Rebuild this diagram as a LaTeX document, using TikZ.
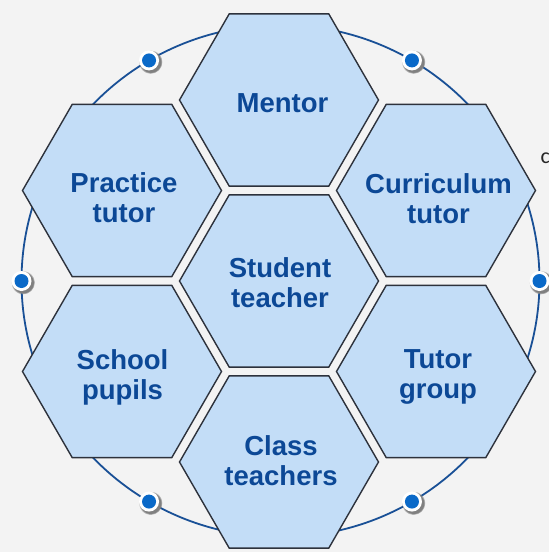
\documentclass[tikz,border=0pt]{standalone}
\usepackage{fontspec}
\setmainfont{Liberation Sans}
\newfontfamily\strayfont{Carlito}
\usetikzlibrary{shapes.geometric,shadows}
\definecolor{bgc}{RGB}{243,243,243}
\definecolor{hexfill}{RGB}{195,221,247}
\definecolor{hexline}{RGB}{45,50,60}
\definecolor{txt}{RGB}{12,72,150}
\definecolor{ringc}{RGB}{25,80,150}
\definecolor{dotblue}{RGB}{10,105,200}
\begin{document}
\begin{tikzpicture}[x=1pt,y=-1pt,
  hexa/.style={regular polygon, regular polygon sides=6, minimum size=199pt,
    inner sep=0pt, outer sep=0pt, draw=hexline, line width=1.4pt, fill=hexfill},
  lbl/.style={font=\fontsize{27.5}{30}\selectfont\bfseries, text=txt,
    align=center, inner sep=0pt},
  dotring/.style={circle, minimum size=20pt, inner sep=0pt, fill=white,
    circular drop shadow={shadow xshift=1.2pt, shadow yshift=-1.2pt, shadow scale=1.2},
    path picture={\fill[dotblue] (path picture bounding box.center) circle[radius=7pt];}},
  ringline/.style={draw=ringc, line width=1.8pt}]
\fill[bgc] (0,0) rectangle (549,552);
\useasboundingbox (0,0) rectangle (549,552);
\coordinate (o) at (280.5,281);
\draw[ringline] (o) ellipse [x radius=259pt, y radius=256pt];
% hexagons
\node[hexa] (mentor) at (279,100) {};
\node[hexa] (student) at (279,281) {};
\node[hexa] (practice) at (122,190.5) {};
\node[hexa] (curric) at (436,190.5) {};
\node[hexa] (pupils) at (122,371.5) {};
\node[hexa] (group) at (436,371.5) {};
\node[hexa] (classt) at (279,462) {};
% labels
\node[lbl] (tmentor) at (282.5,103.5) {Mentor};
\node[lbl] (tstudent) at (280,283) {Student\\teacher};
\node[lbl] (tpractice) at (124,198) {Practice\\tutor};
\node[lbl] (tcurric) at (438.5,199) {Curriculum\\tutor};
\node[lbl] (tpupils) at (122.5,377.5) {School\\pupils};
\node[lbl] (tgroup) at (438,377) {Tutor\\group};
\node[lbl] (tclass) at (281,460.5) {Class\\teachers};
% dots on the ring
\node[dotring] (d1) at ([shift={(0:259 and 256)}]o) {};
\node[dotring] (d2) at ([shift={(59.5:259 and 256)}]o) {};
\node[dotring] (d3) at ([shift={(120.5:259 and 256)}]o) {};
\node[dotring] (d4) at ([shift={(180:259 and 256)}]o) {};
\node[dotring] (d5) at ([shift={(239.5:259 and 256)}]o) {};
\node[dotring] (d6) at ([shift={(300.5:259 and 256)}]o) {};
% stray letter at right edge
\node[anchor=base west, inner sep=0pt, font=\strayfont\fontsize{22}{22}\selectfont, text=black!85] (stray) at (540.5,163.3) {c};
\end{tikzpicture}
\end{document}
